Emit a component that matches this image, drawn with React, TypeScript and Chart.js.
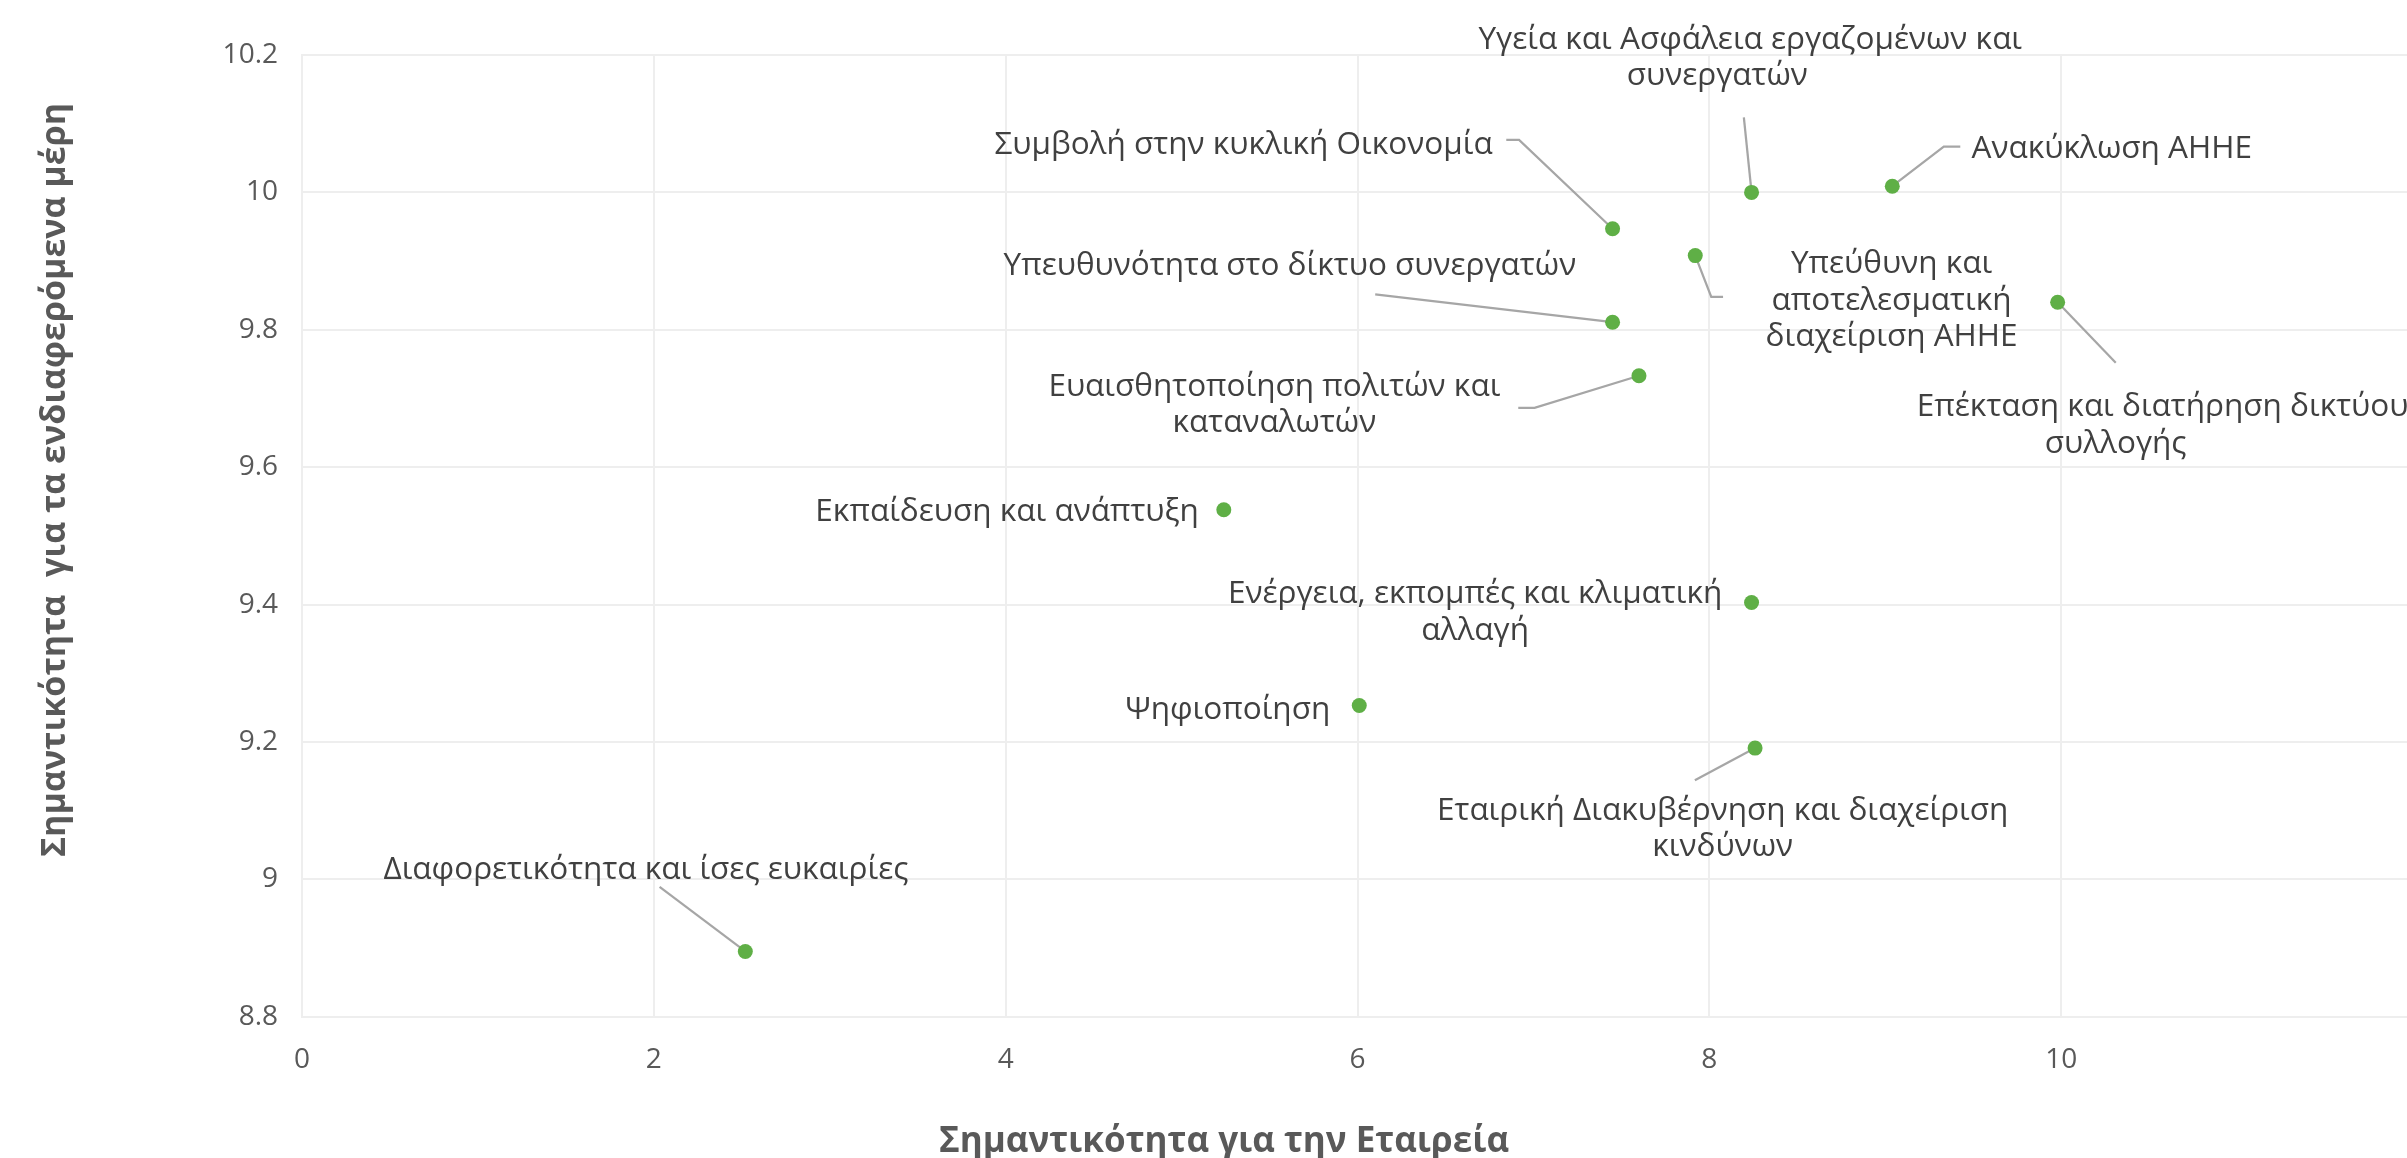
import React, { useEffect, useRef } from 'react';
import { Chart, registerables } from 'chart.js';

Chart.register(...registerables);

// ---- data ----
const TOPICS: string[] = [
  'Διαφορετικότητα και ίσες ευκαιρίες',
  'Εκπαίδευση και ανάπτυξη',
  'Ψηφιοποίηση',
  'Συμβολή στην κυκλική Οικονομία',
  'Υπευθυνότητα στο δίκτυο συνεργατών',
  'Ευαισθητοποίηση πολιτών και καταναλωτών',
  'Υπεύθυνη και αποτελεσματική διαχείριση ΑΗΗΕ',
  'Υγεία και Ασφάλεια εργαζομένων και συνεργατών',
  'Ενέργεια, εκπομπές και κλιματική αλλαγή',
  'Εταιρική Διακυβέρνηση και διαχείριση κινδύνων',
  'Ανακύκλωση ΑΗΗΕ',
  'Επέκταση και διατήρηση δικτύου συλλογής',
];
const COMPANY_IMPORTANCE: number[] = [2.52, 5.24, 6.01, 7.45, 7.45, 7.6, 7.92, 8.24, 8.24, 8.26, 9.04, 9.98];
const STAKEHOLDER_IMPORTANCE: number[] = [8.895, 9.538, 9.253, 9.947, 9.811, 9.733, 9.908, 10.0, 9.403, 9.191, 10.009, 9.84];
const X_TICKS: number[] = [0, 2, 4, 6, 8, 10, 12];
const Y_TICKS: number[] = [8.8, 9, 9.2, 9.4, 9.6, 9.8, 10, 10.2];
const X_TITLE = 'Σημαντικότητα για την Εταιρεία';
const Y_TITLE = 'Σημαντικότητα  για τα ενδιαφερόμενα μέρη';

// ---- label layout (pixel offsets from the point) ----
type Lay = {
  wrap?: number[];
  align?: 'left' | 'right' | 'center';
  dx: number;
  dy: number;
  lineDx?: number[];
  leader?: number[][];
};
const LABEL_LAYOUT: Lay[] = [
  { dx: -99.4, dy: -81.1, leader: [[-85.7, -64.5]] },
  { align: 'right', dx: -25, dy: 2 },
  { align: 'right', dx: -29, dy: 5 },
  { align: 'right', dx: -119.9, dy: -84, leader: [[-106.3, -88.8], [-93.5, -88.8]] },
  { align: 'right', dx: -36.4, dy: -56.6, leader: [[-237.4, -27.9]] },
  { wrap: [3, 1], dx: -364.6, dy: 29.4, leader: [[-120.7, 32.1], [-104.4, 32.1]] },
  { wrap: [2, 1, 2], dx: 196.3, dy: 45, leader: [[27.8, 41.3], [16, 41.3]] },
  { wrap: [5, 1], dx: -17.8, dy: -134.3, lineDx: [16.5, -16.5], leader: [[-7.7, -75]] },
  { wrap: [4, 1], dx: -276.4, dy: 10.3 },
  { wrap: [4, 1], dx: -32.4, dy: 80.9, leader: [[-60.2, 32.1]] },
  { align: 'left', dx: 79.3, dy: -37.5, leader: [[68, -39.5], [51.5, -39.5]] },
  { wrap: [4, 1], dx: 90, dy: 123, lineDx: [15, -32], leader: [[58.1, 60.5]] },
];

const FONT = '"Open Sans", "Noto Sans", sans-serif';
const LABEL_SIZE = 31.5;
const LINE_H = 36.6;
const GREEN = '#5FAF46';
const GRID = '#EEEEEE';

function splitLines(text: string, wrap?: number[]): string[] {
  const words = text.split(' ');
  if (!wrap) return [text];
  const out: string[] = [];
  let k = 0;
  for (const n of wrap) {
    out.push(words.slice(k, k + n).join(' '));
    k += n;
  }
  return out;
}

const annotPlugin = {
  id: 'annot',
  beforeDatasetsDraw(chart: any) {
    const ctx = chart.ctx;
    const meta = chart.getDatasetMeta(0);
    ctx.save();
    ctx.strokeStyle = '#A6A6A6';
    ctx.lineWidth = 2.25;
    meta.data.forEach((pt: any, i: number) => {
      const lay = LABEL_LAYOUT[i];
      if (!lay || !lay.leader) return;
      ctx.beginPath();
      lay.leader.forEach((p, j) => {
        if (j === 0) ctx.moveTo(pt.x + p[0], pt.y + p[1]);
        else ctx.lineTo(pt.x + p[0], pt.y + p[1]);
      });
      ctx.lineTo(pt.x, pt.y);
      ctx.stroke();
    });
    ctx.restore();
  },
  afterDatasetsDraw(chart: any) {
    const ctx = chart.ctx;
    const meta = chart.getDatasetMeta(0);
    ctx.save();
    ctx.fillStyle = '#404040';
    ctx.font = `${LABEL_SIZE}px ${FONT}`;
    ctx.textBaseline = 'middle';
    meta.data.forEach((pt: any, i: number) => {
      const lay = LABEL_LAYOUT[i];
      ctx.textAlign = lay.align || 'center';
      const lines = splitLines(TOPICS[i], lay.wrap);
      const cx = pt.x + lay.dx;
      const cy = pt.y + lay.dy;
      const y0 = cy - ((lines.length - 1) * LINE_H) / 2;
      lines.forEach((ln, j) => {
        const ldx = lay.lineDx ? lay.lineDx[j] : 0;
        ctx.fillText(ln, cx + ldx, y0 + j * LINE_H);
      });
    });
    ctx.restore();
  },
  afterDraw(chart: any) {
    const ctx = chart.ctx;
    ctx.save();
    ctx.fillStyle = '#595959';
    ctx.textAlign = 'center';
    ctx.textBaseline = 'alphabetic';
    ctx.font = `bold 35px ${FONT}`;
    ctx.fillText(X_TITLE, 1224, 1152);
    ctx.font = `bold 34px ${FONT}`;
    ctx.translate(65, 480);
    ctx.rotate(-Math.PI / 2);
    ctx.fillText(Y_TITLE, 0, 0);
    ctx.restore();
  },
};

export default function App() {
  const ref = useRef<HTMLCanvasElement | null>(null);
  useEffect(() => {
    if (!ref.current) return;
    const chart = new Chart(ref.current, {
      type: 'scatter',
      data: {
        datasets: [
          {
            label: 'Θέματα',
            data: COMPANY_IMPORTANCE.map((x, i) => ({ x, y: STAKEHOLDER_IMPORTANCE[i] })),
            backgroundColor: GREEN,
            borderColor: GREEN,
            borderWidth: 0,
            pointRadius: 7.5,
            pointHoverRadius: 7.5,
          },
        ],
      },
      options: {
        responsive: false,
        animation: false,
        events: [],
        layout: { autoPadding: false, padding: { left: 0, right: 0, top: 55, bottom: 0 } },
        plugins: { legend: { display: false }, tooltip: { enabled: false }, title: { display: false } },
        scales: {
          x: {
            type: 'linear',
            min: 0,
            max: 12,
            afterBuildTicks: (s: any) => {
              s.ticks = X_TICKS.map((v) => ({ value: v }));
            },
            afterFit: (s: any) => {
              s.height = 141.3;
              s.paddingRight = 0;
              s.paddingLeft = 0;
            },
            grid: { color: GRID, lineWidth: 2, drawTicks: false },
            border: { color: GRID, width: 2 },
            ticks: {
              padding: 27,
              color: '#595959',
              font: { family: FONT, size: 28 },
              maxRotation: 0,
              callback: (v: any) => (v === 12 ? '' : String(v)),
            },
          },
          y: {
            type: 'linear',
            min: 8.8,
            max: 10.2,
            afterBuildTicks: (s: any) => {
              s.ticks = Y_TICKS.map((v) => ({ value: v }));
            },
            afterFit: (s: any) => {
              s.width = 302;
            },
            grid: { color: GRID, lineWidth: 2, drawTicks: false },
            border: { color: GRID, width: 2 },
            ticks: {
              padding: 24,
              color: '#595959',
              font: { family: FONT, size: 28 },
              callback: (v: any) => String(+Number(v).toFixed(1)),
            },
          },
        },
      },
      plugins: [annotPlugin],
    });
    return () => chart.destroy();
  }, []);

  return (
    <div style={{ position: 'absolute', left: 0, top: 0, width: 2407, height: 1158, overflow: 'hidden', background: '#fff' }}>
      <canvas ref={ref} width={2413} height={1158} style={{ display: 'block', width: 2413, height: 1158 }} />
    </div>
  );
}
